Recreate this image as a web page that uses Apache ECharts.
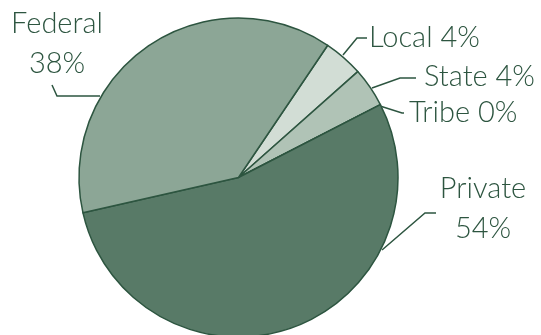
<!DOCTYPE html>
<html>
<head>
<meta charset="utf-8">
<script src="https://cdn.jsdelivr.net/npm/echarts@6/dist/echarts.min.js"></script>
<style>
  html, body { margin: 0; padding: 0; background: #fff; }
  #chart { width: 541px; height: 335px; }
</style>
</head>
<body>
<div id="chart"></div>
<script>
// ownership shares, clockwise from the Local slice
const owners = ['Local', 'State', 'Tribe', 'Private', 'Federal'];
const shares = [4, 4, 0, 54, 38];
const fills = ['#d2ddd5', '#b0c3b6', '#b0c3b6', '#587a67', '#8ca696'];

const ink = '#2d5540';

// where each label sits and how its leader line runs
const placement = {
  Local: { x: 369, y: 38, two: false, line: [[343, 55], [357, 38], [367, 38]] },
  State: { x: 424, y: 77, two: false, line: [[372, 88], [400, 78], [416, 78]] },
  Tribe: { x: 409, y: 113, two: false, line: [[380, 106], [402, 113], [404, 113]] },
  Private: { x: 483, y: 209, two: true, line: [[382, 250], [425, 213], [436, 213]] },
  Federal: { x: 57, y: 44, two: true, line: [[100, 96], [57, 96], [52, 85]] }
};

const chart = echarts.init(document.getElementById('chart'));

chart.setOption({
  animation: false,
  series: [{
    type: 'pie',
    center: [238.5, 177.5],
    radius: 159.5,
    startAngle: 56,
    clockwise: true,
    avoidLabelOverlap: false,
    data: owners.map((name, i) => ({
      name,
      value: shares[i],
      itemStyle: { color: fills[i] }
    })),
    itemStyle: { borderColor: ink, borderWidth: 1.5 },
    label: {
      show: true,
      color: ink,
      fontFamily: 'Lato',
      fontWeight: 300,
      fontSize: 29,
      lineHeight: 40,
      formatter: (p) => placement[p.name].two
        ? p.name + '\n' + p.value + '%'
        : p.name + ' ' + p.value + '%'
    },
    labelLine: {
      show: true,
      lineStyle: { color: ink, width: 1.5 }
    },
    labelLayout: (p) => {
      const name = owners[p.dataIndex];
      const spot = placement[name];
      return {
        x: spot.x,
        y: spot.y,
        align: spot.two ? 'center' : 'left',
        verticalAlign: 'middle',
        labelLinePoints: spot.line
      };
    }
  }]
});
</script>
</body>
</html>
